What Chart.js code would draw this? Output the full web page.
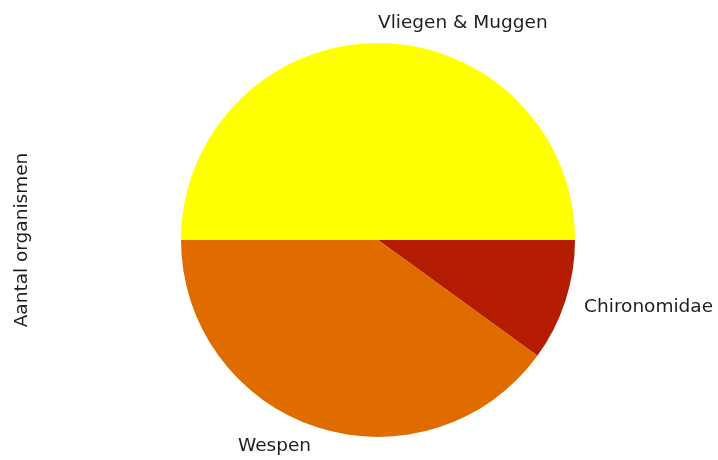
<!DOCTYPE html>
<html>
<head>
<meta charset="utf-8">
<script src="https://cdn.jsdelivr.net/npm/chart.js@4"></script>
<style>
  html, body { margin: 0; padding: 0; background: #fff; }
  #wrap { width: 718px; height: 460px; }
</style>
</head>
<body>
<div id="wrap"><canvas id="myChart" width="718" height="460"></canvas></div>
<script>
// data in matplotlib order (counter-clockwise from 3 o'clock)
const labels = ['Vliegen & Muggen', 'Wespen', 'Chironomidae'];
const counts = [5, 4, 1];
const colors = ['#ffff00', '#e06c00', '#b31c00'];
const yTitle = 'Aantal organismen';

// Chart.js goes clockwise, so reverse to get the same picture
const cwLabels = labels.slice().reverse();
const cwCounts = counts.slice().reverse();
const cwColors = colors.slice().reverse();

const pieLabels = {
    id: 'pieLabels',
    afterDatasetsDraw(chart) {
        const ctx = chart.ctx;
        const meta = chart.getDatasetMeta(0);
        ctx.save();
        ctx.font = '18.5px "DejaVu Sans"';
        ctx.fillStyle = '#1e1e1e';
        ctx.textBaseline = 'middle';
        meta.data.forEach((arc, i) => {
            const mid = (arc.startAngle + arc.endAngle) / 2;
            const r = arc.outerRadius * 1.1;
            const x = arc.x + Math.cos(mid) * r;
            const y = arc.y + Math.sin(mid) * r;
            ctx.textAlign = Math.cos(mid) >= -1e-9 ? 'left' : 'right';
            ctx.fillText(chart.data.labels[i], x, y);
        });
        // y axis label
        ctx.translate(22, meta.data[0].y);
        ctx.rotate(-Math.PI / 2);
        ctx.textAlign = 'center';
        ctx.fillText(yTitle, 0, 0);
        ctx.restore();
    }
};

new Chart(document.getElementById('myChart'), {
    type: 'pie',
    data: {
        labels: cwLabels,
        datasets: [{
            data: cwCounts,
            backgroundColor: cwColors,
            borderWidth: 0
        }]
    },
    options: {
        responsive: false,
        animation: false,
        rotation: 90,
        layout: {
            padding: { left: 181, right: 143, top: 43, bottom: 23 }
        },
        plugins: {
            legend: { display: false },
            tooltip: { enabled: false }
        }
    },
    plugins: [pieLabels]
});
</script>
</body>
</html>
